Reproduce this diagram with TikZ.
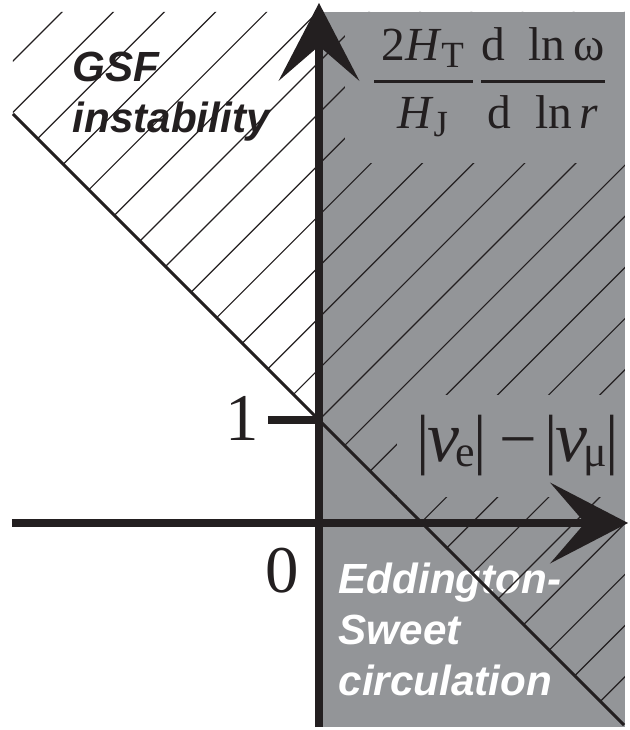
\documentclass[tikz,border=0pt]{standalone}
\usepackage{amsmath}
\usepackage{fontspec}
\setmainfont{Liberation Serif}
\setsansfont{Liberation Sans}
\usetikzlibrary{arrows.meta}
\definecolor{ESGray}{HTML}{939598}
\definecolor{ESInk}{HTML}{231F20}
\DeclareMathSizes{13.5}{13.5}{10.5}{8}

\begin{document}
\begin{tikzpicture}[x=1mm,y=1mm,>={Stealth[length=7.8mm,width=8.1mm,inset=3.5mm,line width=0pt]}]
  \tikzstyle{axis}=[draw=ESInk,line width=0.8mm,->]
  \tikzstyle{hatch}=[draw=ESInk,line width=0.12mm]
  \tikzstyle{border}=[draw=ESInk,line width=0.3mm]
  \tikzstyle{region}=[font=\sffamily\bfseries\itshape\fontsize{12}{14.6}\selectfont,
    align=left,inner sep=0pt,anchor=north west]
  \tikzstyle{mathlabel}=[text=ESInk,inner sep=0pt]
  \useasboundingbox (-31.9,-20.7) rectangle (31.0,52.3);
  \fill[ESGray] (0.3,-20.4) rectangle (30.6,51.1);
  \node[region,text=white] (es) at (1.9,-3.9) {Eddington-\\Sweet\\circulation};
  % hatched half-plane above the boundary line
  \coordinate (bl) at (-30.6,40.9);
  \coordinate (br) at (30.5,-20.2);
  \begin{scope}
    \clip (bl) -- (-30.6,51.1) -- (30.6,51.1) -- (30.6,-20.3) -- cycle;
    \foreach \k in {-14,...,12}
      \draw[hatch] ({-10.3+5.115*\k-60},-60) -- ({-10.3+5.115*\k+60},60);
  \end{scope}
  % labels on the gray side
  \fill[ESGray] (2.6,36.0) rectangle (30.6,51.1);
  \node[mathlabel,font=\fontsize{13.5}{16}\selectfont] (frac) at (17.05,44.1)
    {$\genfrac{}{}{1pt}{0}{\hspace{0.15em}\text{2\textit{H}}_{\text{T}}\hspace{0.15em}}{\text{\textit{H}}_{\text{J}}}%
      \genfrac{}{}{1pt}{0}{\text{d\hspace{0.5em}ln\,ω}}{\text{d\hspace{0.5em}ln\,\textit{r}}}$};
  \fill[ESGray] (7.8,2.6) rectangle (30.6,12.8);
  \node[mathlabel,font=\fontsize{19}{19}\selectfont] (nu) at (19.9,7.75)
    {|\kern-0.04em{\fontsize{20.5}{20.5}\selectfont\textit{ν}}\kern-0.06em\raisebox{-1.4pt}{\fontsize{12.5}{12.5}\selectfont e}\kern-0.02em|\kern0.18em−\kern0.12em|\kern-0.04em{\fontsize{20.5}{20.5}\selectfont\textit{ν}}\kern-0.06em\raisebox{-1.4pt}{\fontsize{12.5}{12.5}\selectfont μ}\kern-0.02em|};
  \draw[border] (bl) -- (br);
  % axes and tick
  \coordinate (xl) at (-30.7,0);
  \coordinate (xr) at (30.9,0);
  \coordinate (yb) at (0,-20.4);
  \coordinate (yt) at (0,52.0);
  \coordinate (t0) at (-5.1,10.3);
  \coordinate (t1) at (0,10.3);
  \draw[ESInk,line width=0.8mm] (t0) -- (t1);
  \draw[axis] (xl) -- (xr);
  \draw[axis] (yb) -- (yt);
  \node[mathlabel,font=\fontsize{19}{19}\selectfont] (one) at (-7.7,10.5) {1};
  \node[mathlabel,font=\fontsize{19}{19}\selectfont] (zero) at (-3.7,-4.8) {0};
  \node[region,text=ESInk] (gsf) at (-24.7,47.2) {GSF\\instability};
\end{tikzpicture}
\end{document}
